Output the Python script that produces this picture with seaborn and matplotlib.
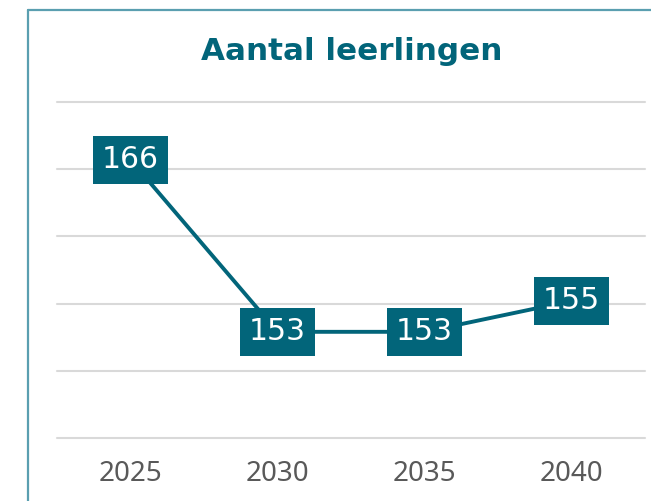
import matplotlib
matplotlib.use("Agg")
import matplotlib.pyplot as plt
import seaborn as sns
import pandas as pd
from matplotlib.lines import Line2D

years = ["2025", "2030", "2035", "2040"]
leerlingen = [165.7, 152.9, 152.9, 155.2]
title = "Aantal leerlingen"

teal = "#02657a"
grid_c = "#d9d9d9"
tick_c = "#595959"
border_c = "#5a9fb0"

sns.set_theme(style="white")
plt.rcParams["font.family"] = ["DejaVu Sans"]

df = pd.DataFrame({"jaar": years, "aantal": leerlingen})

fig = plt.figure(figsize=(6.51, 5.01), dpi=100)
ax = fig.add_axes([57 / 651, 63 / 501, 588 / 651, 336 / 501])

sns.lineplot(data=df, x="jaar", y="aantal", ax=ax, color=teal, linewidth=2.8,
             sort=False, zorder=3)

ax.set_ylim(145, 170)
ax.set_xlim(-0.5, 3.5)
ax.set_yticks([145, 150, 155, 160, 165, 170])
ax.yaxis.grid(True, color=grid_c, linewidth=1.5)
for gl in ax.get_ygridlines():
    gl.set_clip_on(False)
ax.set_axisbelow(True)
ax.tick_params(axis="y", left=False, labelleft=False)
ax.tick_params(axis="x", length=0, pad=16, labelsize=20, labelcolor=tick_c)
for lbl in ax.get_xticklabels():
    lbl.set_family(["Noto Sans", "DejaVu Sans"])
ax.set_xlabel("")
ax.set_ylabel("")
for s in ax.spines.values():
    s.set_visible(False)

for i, v in enumerate(leerlingen):
    ax.text(i, v, f"{v:.0f}", ha="center", va="center", color="white",
            fontsize=21.5, zorder=5,
            bbox=dict(boxstyle="square,pad=0.31", fc=teal, ec="none"))

fig.text(352 / 651, 1 - 51 / 501, title, ha="center", va="center",
         fontsize=22.3, fontweight="bold", color=teal)

fig.add_artist(Line2D([27.5 / 651, 27.5 / 651], [0, 1 - 9.5 / 501],
                      color=border_c, linewidth=1.6, transform=fig.transFigure))
fig.add_artist(Line2D([27.5 / 651, 1], [1 - 9.5 / 501, 1 - 9.5 / 501],
                      color=border_c, linewidth=1.6, transform=fig.transFigure))

fig.savefig("out.png", dpi=100)
